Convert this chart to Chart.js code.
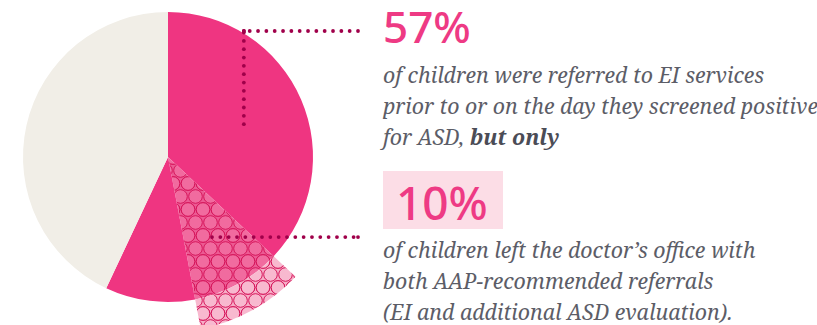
<!DOCTYPE html>
<html>
<head>
<meta charset="utf-8">
<script src="https://cdn.jsdelivr.net/npm/chart.js@4/dist/chart.umd.min.js"></script>
<style>
  html, body { margin: 0; padding: 0; background: #fff; }
  body { width: 817px; height: 325px; position: relative; overflow: hidden; }
  #pie { position: absolute; left: -7px; top: -18px; }
  .big { position: absolute; font-family: "Noto Sans", sans-serif; font-weight: 500; color: #ee3a84; line-height: 1; white-space: nowrap; }
  .para { position: absolute; left: 383px; font-family: "Noto Serif", "Liberation Serif", serif; font-style: italic; font-size: 21.3px; line-height: 31px; color: #5c5d67; white-space: nowrap; }
  .para b { color: #4b4c56; }
  #box { position: absolute; left: 383px; top: 171px; width: 120px; height: 58px; background: #fcdde6; }
</style>
</head>
<body>
<canvas id="pie" width="380" height="350"></canvas>

<div class="big" style="left:383px; top:4px; font-size:44px;">57%</div>
<div class="para" style="top:59px;">of children were referred to EI services<br>prior to or on the day they screened positive<br>for ASD, <b>but only</b></div>

<div id="box"></div>
<div class="big" style="left:396px; top:179px; font-size:46px;">10%</div>
<div class="para" style="top:234px;">of children left the doctor’s office with<br>both AAP-recommended referrals<br>(EI and additional ASD evaluation).</div>

<script>
// slices, clockwise from 12 o'clock (percent of children)
const labels = ['Referred to EI only', 'Both AAP referrals', 'Referred to EI (other)', 'Not referred'];
const shares = [37, 10, 10, 43];
const highlighted = 1; // the slice that sticks out

const PINK = '#ef3581';
const BEIGE = '#f1eee7';
const DOT = '#a0004a';

function circlePattern(bg, fill) {
    const w = 15, h = 26;
    const c = document.createElement('canvas');
    c.width = w; c.height = h;
    const g = c.getContext('2d');
    g.fillStyle = bg;
    g.fillRect(0, 0, w, h);
    const centres = [[w / 2, h / 4], [0, h * 3 / 4], [w, h * 3 / 4]];
    for (let dx = -w; dx <= w; dx += w) {
        for (let dy = -h; dy <= h; dy += h) {
            centres.forEach(p => {
                g.beginPath();
                g.arc(p[0] + dx, p[1] + dy, 6.8, 0, Math.PI * 2);
                g.fillStyle = fill;
                g.fill();
                g.lineWidth = 1;
                g.strokeStyle = '#d6155b';
                g.stroke();
            });
        }
    }
    return document.getElementById('pie').getContext('2d').createPattern(c, 'repeat');
}

const innerPattern = circlePattern('#ec5a93', '#f16b9f');
const outerPattern = circlePattern('#f6adc6', '#f8b9cf');

// leader lines: slice index, radius fraction of the pie, end x / corner y relative to centre
const leaders = [
    { slice: 0, r: 0.57, toX: 190, cornerY: -126 },
    { slice: 1, r: 0.63, toX: 190, cornerY: null }
];

function dotsBetween(ctx, x1, y1, x2, y2, step) {
    const len = Math.hypot(x2 - x1, y2 - y1);
    const n = Math.floor(len / step);
    for (let i = 0; i <= n; i++) {
        const t = (len - i * step) / len;
        ctx.beginPath();
        ctx.arc(x1 + (x2 - x1) * t, y1 + (y2 - y1) * t, 1.9, 0, Math.PI * 2);
        ctx.fill();
    }
    ctx.beginPath();
    ctx.arc(x1, y1, 1.9, 0, Math.PI * 2);
    ctx.fill();
}

const leaderPlugin = {
    id: 'leaders',
    afterDraw(chart) {
        const meta = chart.getDatasetMeta(1);
        const ctx = chart.ctx;
        const R = meta.controller.outerRadius;
        ctx.save();
        ctx.fillStyle = DOT;
        leaders.forEach(l => {
            const arc = meta.data[l.slice];
            const mid = (arc.startAngle + arc.endAngle) / 2;
            const ax = arc.x + Math.cos(mid) * R * l.r;
            const ay = arc.y + Math.sin(mid) * R * l.r;
            const ex = arc.x + l.toX;
            if (l.cornerY !== null) {
                const cy = arc.y + l.cornerY;
                dotsBetween(ctx, ax, cy, ax, ay, 8.33);
                dotsBetween(ctx, ax, cy, ex, cy, 8.33);
            } else {
                dotsBetween(ctx, ex, ay, ax, ay, 8.33);
            }
        });
        ctx.restore();
    }
};

new Chart(document.getElementById('pie'), {
    type: 'pie',
    data: {
        labels,
        datasets: [
            {   // outer ring: only the highlighted slice is visible
                data: shares,
                weight: 30,
                backgroundColor: shares.map((_, i) => i === highlighted ? outerPattern : 'rgba(0,0,0,0)'),
                borderWidth: 0,
                hoverOffset: 0,
                offset: 0
            },
            {   // the pie itself
                data: shares,
                weight: 145,
                backgroundColor: [PINK, innerPattern, PINK, BEIGE],
                borderWidth: 0,
                hoverOffset: 0,
                offset: 0
            }
        ]
    },
    options: {
        responsive: false,
        animation: false,
        events: [],
        layout: { padding: { right: 30 } },
        plugins: { legend: { display: false }, tooltip: { enabled: false } }
    },
    plugins: [leaderPlugin]
});
</script>
</body>
</html>
